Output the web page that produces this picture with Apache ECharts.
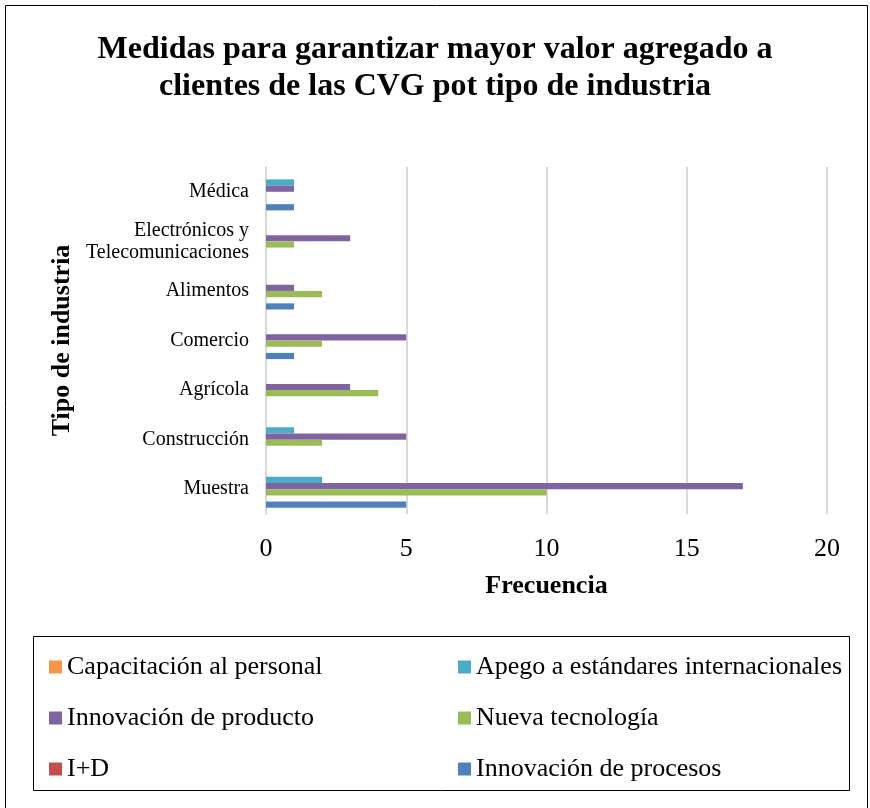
<!DOCTYPE html>
<html>
<head>
<meta charset="utf-8">
<script src="https://cdn.jsdelivr.net/npm/echarts@6/dist/echarts.min.js"></script>
<style>
  html, body { margin: 0; padding: 0; background: #fff; }
  #chart { width: 870px; height: 808px; }
</style>
</head>
<body>
<div id="chart"></div>
<script>
// categories, bottom to top as on the axis
const categories = ['Muestra', 'Construcción', 'Agrícola', 'Comercio', 'Alimentos', 'Electrónicos y\nTelecomunicaciones', 'Médica'];
const xTicks = [0, 5, 10, 15, 20];

const innovacionProcesos = [5, 0, 0, 1, 1, 0, 1];
const iMasD = [0, 0, 0, 0, 0, 0, 0];
const nuevaTecnologia = [10, 2, 4, 2, 2, 1, 0];
const innovacionProducto = [17, 5, 3, 5, 1, 3, 1];
const apegoEstandares = [2, 1, 0, 0, 0, 0, 1];
const capacitacion = [0, 0, 0, 0, 0, 0, 0];

const serif = "'Liberation Serif', 'Times New Roman', serif";

const chart = echarts.init(document.getElementById('chart'));

const bar = (name, data, color) => ({
    name: name,
    type: 'bar',
    data: data,
    barGap: 0,
    barCategoryGap: '25%',
    itemStyle: { color: color },
    emphasis: { disabled: true }
});

const legendText = { fontFamily: serif, fontSize: 26, color: '#000' };

const option = {
    animation: false,
    textStyle: { fontFamily: serif, color: '#000' },
    title: {
        text: 'Medidas para garantizar mayor valor agregado a\nclientes de las CVG pot tipo de industria',
        left: 'center',
        top: 26,
        textStyle: { fontFamily: serif, fontSize: 32, fontWeight: 'bold', color: '#000', lineHeight: 37 }
    },
    legend: [
        {
            orient: 'vertical',
            left: 44,
            top: 649,
            itemGap: 25,
            itemWidth: 13,
            itemHeight: 13,
            icon: 'rect',
            textStyle: legendText,
            data: ['Capacitación al personal', 'Innovación de producto', 'I+D']
        },
        {
            orient: 'vertical',
            left: 453,
            top: 649,
            itemGap: 25,
            itemWidth: 13,
            itemHeight: 13,
            icon: 'rect',
            textStyle: legendText,
            data: ['Apego a estándares internacionales', 'Nueva tecnología', 'Innovación de procesos']
        }
    ],
    grid: { left: 266, right: 43, top: 167, bottom: 294 },
    xAxis: {
        type: 'value',
        min: xTicks[0],
        max: xTicks[xTicks.length - 1],
        interval: 5,
        name: 'Frecuencia',
        nameLocation: 'middle',
        nameGap: 59,
        nameTextStyle: { fontFamily: serif, fontSize: 26, fontWeight: 'bold', color: '#000' },
        axisLine: { show: false },
        axisTick: { show: false },
        axisLabel: { fontFamily: serif, fontSize: 26, color: '#000', margin: 22 },
        splitLine: { lineStyle: { color: '#d9d9d9', width: 2 } }
    },
    yAxis: {
        type: 'category',
        data: categories,
        name: 'Tipo de industria',
        nameLocation: 'middle',
        nameRotate: 90,
        nameGap: 188,
        nameTextStyle: { fontFamily: serif, fontSize: 26, fontWeight: 'bold', color: '#000' },
        axisLine: { show: true, lineStyle: { color: '#d9d9d9', width: 2 } },
        axisTick: { show: false },
        axisLabel: { fontFamily: serif, fontSize: 20, color: '#000', margin: 17, lineHeight: 22 }
    },
    // in a horizontal bar chart ECharts puts the first series on top,
    // so list them top to bottom (Excel stacks them bottom to top)
    series: [
        bar('Capacitación al personal', capacitacion, '#f79646'),
        bar('Apego a estándares internacionales', apegoEstandares, '#4bacc6'),
        bar('Innovación de producto', innovacionProducto, '#8064a2'),
        bar('Nueva tecnología', nuevaTecnologia, '#9bbb59'),
        bar('I+D', iMasD, '#c0504d'),
        bar('Innovación de procesos', innovacionProcesos, '#4f81bd')
    ],
    graphic: [
        {
            type: 'rect',
            shape: { x: 5.5, y: 5.5, width: 862, height: 820 },
            style: { fill: 'none', stroke: '#000', lineWidth: 1 },
            silent: true
        },
        {
            type: 'rect',
            shape: { x: 33.5, y: 636.5, width: 816, height: 154 },
            style: { fill: 'none', stroke: '#000', lineWidth: 1 },
            silent: true
        }
    ]
};

chart.setOption(option);
</script>
</body>
</html>
